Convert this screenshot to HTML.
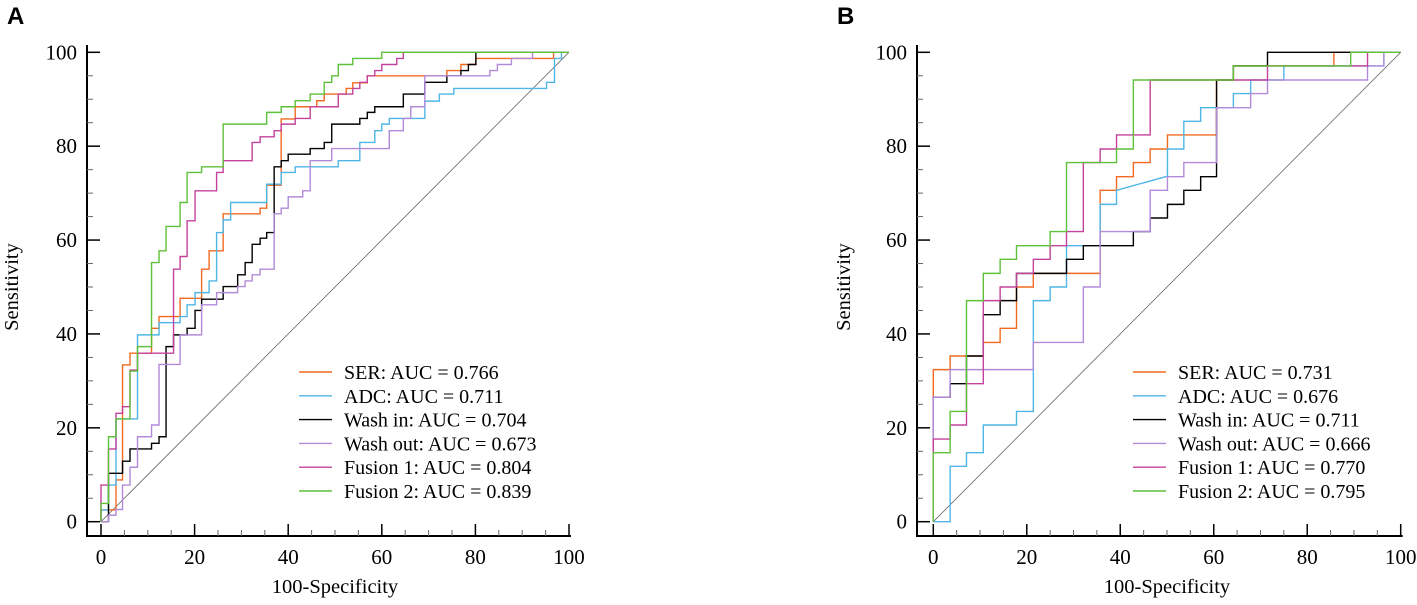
<!DOCTYPE html>
<html><head><meta charset="utf-8"><style>
html,body{margin:0;padding:0;background:#fff;}
</style></head><body>
<svg id="chart" width="1417" height="600" viewBox="0 0 1417 600" font-family="Liberation Serif, Times New Roman, serif"></svg>
<script>
const ticks=[0,20,40,60,80,100];
const seriesNames=["SER","ADC","Wash in","Wash out","Fusion 1","Fusion 2"];
const colors=["#f26a21","#4fb6e6","#000000","#b28ad8","#c3429b","#5fc13a"];
const aucA=["0.766","0.711","0.704","0.673","0.804","0.839"];
const aucB=["0.731","0.676","0.711","0.666","0.770","0.795"];
// Panel A ROC step points (fpr, tpr)
const A_SER_x=[0,0,3.2,4.6,6.2,10.8,12.4,16.9,21.5,23.1,26.1,34.0,35.4,38.5,41.5,46.1,47.7,52.4,53.8,56.9,73.9,76.9,80.1,96.7,100];
const A_SER_y=[0,2.5,8.9,33.4,35.9,41.2,43.7,47.6,53.8,57.7,65.6,66.8,71.7,85.8,88.4,89.7,91.1,92.3,93.5,95.0,96.1,97.4,98.7,100,100];
const A_ADC_x=[0,0,1.6,3.2,7.8,12.4,16.9,18.4,20.1,23.1,24.7,26.1,27.7,35.4,38.5,41.5,50.7,55.3,58.5,60.0,61.6,69.2,72.3,75.4,95.2,96.9,98.4,100];
const A_ADC_y=[0,2.5,7.8,21.9,39.8,42.4,43.7,46.2,48.8,51.3,61.6,64.3,68.0,71.9,74.4,75.6,76.9,80.8,83.3,84.7,85.9,89.6,91.1,92.3,93.6,98.7,100,100];
const A_WIN_x=[0,1.6,4.6,6.2,10.8,12.4,13.9,15.5,18.4,20.1,21.5,26.1,29.2,30.8,32.3,34.0,35.4,37.0,38.5,40.0,44.7,47.7,49.3,55.3,56.9,58.5,64.6,69.2,73.9,76.9,78.5,80.1,100];
const A_WIN_y=[0,10.3,12.9,15.5,16.7,18.1,37.3,39.8,41.2,45.0,47.4,50.1,52.6,55.2,59.1,60.4,61.6,75.6,76.9,78.3,79.5,80.8,84.7,85.9,87.2,88.4,91.1,93.6,95.0,96.1,97.4,100,100];
const A_WOUT_x=[0,1.6,3.2,4.6,6.2,7.8,10.8,12.4,16.9,21.5,24.7,29.2,30.8,32.3,34.0,37.0,38.5,40.0,43.1,44.7,49.3,61.6,64.6,66.2,69.2,83.1,84.7,87.7,92.2,100];
const A_WOUT_y=[0,1.4,2.6,7.8,11.6,18.1,20.6,33.5,39.8,46.2,48.8,50.1,51.3,52.6,53.8,65.6,66.8,69.2,70.5,76.9,79.5,83.3,85.9,88.4,95.0,96.1,97.4,98.7,100,100];
const A_F1_x=[0,0,1.6,3.2,4.6,6.2,7.8,15.5,16.9,18.4,20.1,24.7,26.1,32.3,34.0,37.0,38.5,41.5,44.7,50.7,53.8,55.3,56.9,58.5,60.0,63.2,64.6,100];
const A_F1_y=[0,7.8,15.5,23.1,24.5,32.3,35.9,53.8,56.5,64.1,70.5,74.4,76.9,80.8,82.0,83.3,84.7,85.9,88.4,91.1,92.3,93.6,95.0,96.1,97.4,98.7,100,100];
const A_F2_x=[0,0,1.6,3.2,6.2,7.8,10.8,12.4,13.9,16.9,18.4,21.5,26.1,35.4,38.5,41.5,44.7,47.7,49.3,50.7,53.8,60.0,100];
const A_F2_y=[0,3.9,18.1,21.9,32.1,37.3,55.2,57.7,62.9,68.0,74.4,75.6,84.7,87.2,88.4,89.7,91.1,93.6,95.0,97.4,98.7,100,100];
// Panel B
const B_SER_x=[0,0,3.6,10.7,14.3,17.8,21.4,35.7,39.2,42.8,46.4,50.1,60.6,64.2,85.7,100];
const B_SER_y=[0,32.4,35.3,38.2,41.2,50.0,52.9,70.6,73.5,76.5,79.4,82.4,94.1,97.1,100,100];
const B_ADC_x=[0,3.6,7.1,10.7,17.8,21.4,25.0,28.5,35.7,39.2,50.1,50.1,53.6,57.2,64.2,67.9,75.0,96.4,100];
const B_ADC_y=[0,11.8,14.7,20.6,23.5,47.1,50.0,58.8,67.6,70.6,73.6,79.4,85.3,88.2,91.2,94.1,97.1,100,100];
const B_ADC_diag=[10];
const B_WIN_x=[0,0,3.6,7.1,10.7,14.3,17.8,28.5,32.1,42.8,46.4,50.1,53.6,57.2,60.6,64.2,71.5,100];
const B_WIN_y=[0,26.5,29.4,35.3,44.1,47.1,52.9,55.9,58.8,61.8,64.7,67.6,70.6,73.5,94.1,97.1,100,100];
const B_WOUT_x=[0,0,3.6,21.4,32.1,35.7,46.4,50.1,53.6,60.6,67.9,71.5,92.9,96.4,100];
const B_WOUT_y=[0,26.5,32.4,38.2,50.0,61.8,70.6,73.5,76.5,88.2,91.2,94.1,97.1,100,100];
const B_F1_x=[0,0,3.6,7.1,10.7,14.3,17.8,21.4,25.0,28.5,32.1,35.7,39.2,46.4,71.5,92.9,100];
const B_F1_y=[0,17.6,20.6,29.4,47.1,50.0,52.9,55.9,58.8,61.8,76.5,79.4,82.4,94.1,97.1,100,100];
const B_F2_x=[0,0,3.6,7.1,10.7,14.3,17.8,25.0,28.5,39.2,42.8,64.2,89.3,100];
const B_F2_y=[0,14.7,23.5,47.1,52.9,55.9,58.8,61.8,76.5,79.4,94.1,97.1,100,100];

const NS="http://www.w3.org/2000/svg";
const svg=document.getElementById('chart');
const SERIF="Liberation Serif, serif";
function mk(tag,attrs,parent){const e=document.createElementNS(NS,tag);for(const k in attrs)e.setAttribute(k,attrs[k]);(parent||svg).appendChild(e);return e;}
function tx(attrs,parent){attrs['font-family']=attrs['font-family']||SERIF;return mk('text',attrs,parent);}

function panel(cfg){
  const g=mk('g',{});
  
  
  const sx=v=>cfg.x0+(cfg.x1-cfg.x0)*v/100;
  const sy=v=>521.7-(521.7-52.3)*v/100;
  const spineX=cfg.spine, spineY=536;
  const ax=mk('path',{d:`M${spineX} 45 V${spineY} H${cfg.x1+2}`,fill:'none',stroke:'#000','stroke-width':2},g);
  
  
  for(let v=0;v<=100;v+=5){
    const major=v%20===0;
    mk('line',{x1:spineX,x2:spineX+(major?13:6),y1:sy(v),y2:sy(v),stroke:major?'#000':'#666','stroke-width':major?1.5:1},g);
    mk('line',{x1:sx(v),x2:sx(v),y1:spineY,y2:spineY-(major?12:6),stroke:major?'#000':'#666','stroke-width':major?1.5:1},g);
  }
  ticks.forEach(t=>{
    const yl=tx({x:spineX-10,y:sy(t)+7,'text-anchor':'end','font-size':21},g);yl.textContent=t;
    
    
    const xl=tx({x:sx(t),y:564,'text-anchor':'middle','font-size':21},g);xl.textContent=t;
    
    
  });
  const xt=tx({x:(sx(0)+sx(100))/2,y:593,'text-anchor':'middle','font-size':20.5},g);xt.textContent='100-Specificity';
  
  
  const yt=tx({x:0,y:0,'text-anchor':'middle','font-size':20.5,transform:`translate(${cfg.ytx},287) rotate(-90)`},g);yt.textContent='Sensitivity';
  
  
  const lt=tx({x:cfg.lx,y:24,'font-size':24,'font-weight':'bold','font-family':'Liberation Sans, sans-serif'},g);lt.textContent=cfg.letter;
  
  
  const dg=mk('line',{x1:sx(0),y1:sy(0),x2:sx(100),y2:sy(100),stroke:'#666','stroke-width':0.8},g);
  
  
  cfg.series.forEach((s,i)=>{
    const xs=s[0],ys=s[1],diag=s[2]||[];
    let d=`M${sx(xs[0])} ${sy(ys[0])}`;
    for(let k=1;k<xs.length;k++){
      if(diag.includes(k)) d+=` L${sx(xs[k])} ${sy(ys[k])}`;
      else d+=` H${sx(xs[k])} V${sy(ys[k])}`;
    }
    const p=mk('path',{d:d,fill:'none',stroke:colors[i],'stroke-width':1.4},g);
    
    
    const ly=372+i*23.8;
    const ll=mk('line',{x1:cfg.legx,x2:cfg.legx+33,y1:ly,y2:ly,stroke:colors[i],'stroke-width':1.4},g);
    
    
    const lx=tx({x:cfg.legx+45,y:ly+7,'font-size':20},g);lx.textContent=seriesNames[i]+': AUC = '+cfg.auc[i];
    
    
  });
}
panel({name:'panel-a',letter:'A',lx:7,x0:101,x1:569,spine:87,ytx:18,legx:299,auc:aucA,
  series:[[A_SER_x,A_SER_y],[A_ADC_x,A_ADC_y],[A_WIN_x,A_WIN_y],[A_WOUT_x,A_WOUT_y],[A_F1_x,A_F1_y],[A_F2_x,A_F2_y]]});
panel({name:'panel-b',letter:'B',lx:837,x0:933.3,x1:1400.7,spine:917,ytx:850,legx:1133,auc:aucB,
  series:[[B_SER_x,B_SER_y],[B_ADC_x,B_ADC_y,B_ADC_diag],[B_WIN_x,B_WIN_y],[B_WOUT_x,B_WOUT_y],[B_F1_x,B_F1_y],[B_F2_x,B_F2_y]]});
</script>
</body></html>
